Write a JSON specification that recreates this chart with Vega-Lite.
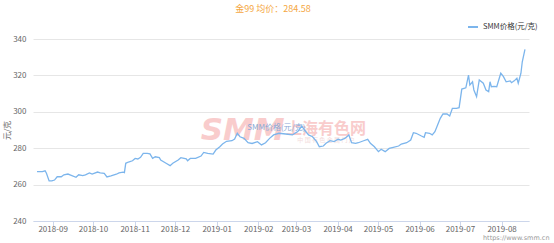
{
  "$schema": "https://vega.github.io/schema/vega-lite/v6.json",
  "autosize": "none",
  "width": 496,
  "height": 182,
  "padding": {"left": 33, "top": 39, "right": 25, "bottom": 22},
  "background": "#ffffff",
  "config": {
    "view": {"stroke": null},
    "font": "Noto Sans CJK SC",
    "axis": {"labelFont": "Noto Sans CJK SC", "titleFont": "Noto Sans CJK SC"}
  },
  "title": {
    "text": "金99 均价：284.58",
    "fontSize": 9,
    "fontWeight": "normal",
    "color": "#f5a742",
    "anchor": "middle",
    "offset": 7,
    "dx": -8
  },
  "datasets": {
    "price": [
      {"date": "2018-08-07", "price": 267.1},
      {"date": "2018-08-11", "price": 267.1},
      {"date": "2018-08-13", "price": 267.6},
      {"date": "2018-08-14", "price": 266.2},
      {"date": "2018-08-16", "price": 262.0},
      {"date": "2018-08-18", "price": 262.0},
      {"date": "2018-08-20", "price": 262.5},
      {"date": "2018-08-22", "price": 264.3},
      {"date": "2018-08-25", "price": 264.3},
      {"date": "2018-08-27", "price": 265.4},
      {"date": "2018-08-30", "price": 265.8},
      {"date": "2018-09-01", "price": 265.2},
      {"date": "2018-09-05", "price": 264.0},
      {"date": "2018-09-07", "price": 265.4},
      {"date": "2018-09-10", "price": 264.9},
      {"date": "2018-09-12", "price": 265.4},
      {"date": "2018-09-15", "price": 266.4},
      {"date": "2018-09-17", "price": 265.8},
      {"date": "2018-09-21", "price": 266.9},
      {"date": "2018-09-23", "price": 266.4},
      {"date": "2018-09-26", "price": 266.2},
      {"date": "2018-09-28", "price": 264.2},
      {"date": "2018-10-01", "price": 264.8},
      {"date": "2018-10-05", "price": 265.7},
      {"date": "2018-10-07", "price": 266.4},
      {"date": "2018-10-10", "price": 266.8},
      {"date": "2018-10-11", "price": 266.6},
      {"date": "2018-10-12", "price": 271.7},
      {"date": "2018-10-14", "price": 272.4},
      {"date": "2018-10-17", "price": 273.1},
      {"date": "2018-10-19", "price": 274.4},
      {"date": "2018-10-21", "price": 274.1},
      {"date": "2018-10-23", "price": 275.0},
      {"date": "2018-10-25", "price": 277.2},
      {"date": "2018-10-28", "price": 277.2},
      {"date": "2018-10-30", "price": 276.9},
      {"date": "2018-11-01", "price": 274.4},
      {"date": "2018-11-03", "price": 275.3},
      {"date": "2018-11-06", "price": 274.8},
      {"date": "2018-11-07", "price": 273.5},
      {"date": "2018-11-11", "price": 271.7},
      {"date": "2018-11-14", "price": 270.4},
      {"date": "2018-11-16", "price": 271.7},
      {"date": "2018-11-20", "price": 273.5},
      {"date": "2018-11-22", "price": 274.8},
      {"date": "2018-11-26", "price": 274.1},
      {"date": "2018-11-27", "price": 273.1},
      {"date": "2018-11-29", "price": 274.4},
      {"date": "2018-12-03", "price": 274.4},
      {"date": "2018-12-07", "price": 275.7},
      {"date": "2018-12-09", "price": 277.7},
      {"date": "2018-12-12", "price": 277.2},
      {"date": "2018-12-16", "price": 276.8},
      {"date": "2018-12-18", "price": 279.0},
      {"date": "2018-12-21", "price": 280.8},
      {"date": "2018-12-23", "price": 282.3},
      {"date": "2018-12-26", "price": 283.8},
      {"date": "2018-12-30", "price": 284.1},
      {"date": "2019-01-01", "price": 285.0},
      {"date": "2019-01-03", "price": 288.2},
      {"date": "2019-01-05", "price": 286.3},
      {"date": "2019-01-08", "price": 285.4},
      {"date": "2019-01-11", "price": 283.0},
      {"date": "2019-01-14", "price": 282.6},
      {"date": "2019-01-18", "price": 283.6},
      {"date": "2019-01-21", "price": 281.8},
      {"date": "2019-01-24", "price": 283.0},
      {"date": "2019-01-27", "price": 285.4},
      {"date": "2019-01-30", "price": 287.3},
      {"date": "2019-02-03", "price": 288.2},
      {"date": "2019-02-08", "price": 287.8},
      {"date": "2019-02-13", "price": 287.3},
      {"date": "2019-02-17", "price": 289.1},
      {"date": "2019-02-20", "price": 292.2},
      {"date": "2019-02-22", "price": 290.0},
      {"date": "2019-02-25", "price": 287.3},
      {"date": "2019-02-28", "price": 286.3},
      {"date": "2019-03-03", "price": 283.6},
      {"date": "2019-03-05", "price": 280.8},
      {"date": "2019-03-08", "price": 281.2},
      {"date": "2019-03-10", "price": 282.7},
      {"date": "2019-03-13", "price": 284.1},
      {"date": "2019-03-16", "price": 283.6},
      {"date": "2019-03-19", "price": 284.9},
      {"date": "2019-03-21", "price": 284.5},
      {"date": "2019-03-24", "price": 285.4},
      {"date": "2019-03-27", "price": 287.3},
      {"date": "2019-03-29", "price": 283.0},
      {"date": "2019-04-01", "price": 282.7},
      {"date": "2019-04-03", "price": 283.0},
      {"date": "2019-04-07", "price": 284.1},
      {"date": "2019-04-10", "price": 284.9},
      {"date": "2019-04-12", "price": 282.7},
      {"date": "2019-04-15", "price": 280.8},
      {"date": "2019-04-18", "price": 278.1},
      {"date": "2019-04-20", "price": 279.4},
      {"date": "2019-04-23", "price": 278.1},
      {"date": "2019-04-26", "price": 279.9},
      {"date": "2019-04-29", "price": 280.5},
      {"date": "2019-05-03", "price": 281.2},
      {"date": "2019-05-05", "price": 282.3},
      {"date": "2019-05-09", "price": 283.0},
      {"date": "2019-05-12", "price": 284.5},
      {"date": "2019-05-14", "price": 288.5},
      {"date": "2019-05-16", "price": 288.2},
      {"date": "2019-05-20", "price": 286.7},
      {"date": "2019-05-22", "price": 286.0},
      {"date": "2019-05-23", "price": 288.5},
      {"date": "2019-05-26", "price": 288.2},
      {"date": "2019-05-28", "price": 287.3},
      {"date": "2019-05-30", "price": 289.1},
      {"date": "2019-06-01", "price": 292.7},
      {"date": "2019-06-03", "price": 296.4},
      {"date": "2019-06-05", "price": 298.8},
      {"date": "2019-06-08", "price": 298.8},
      {"date": "2019-06-10", "price": 297.7},
      {"date": "2019-06-12", "price": 301.9},
      {"date": "2019-06-15", "price": 301.9},
      {"date": "2019-06-17", "price": 302.3},
      {"date": "2019-06-19", "price": 312.5},
      {"date": "2019-06-22", "price": 313.2},
      {"date": "2019-06-24", "price": 320.2},
      {"date": "2019-06-25", "price": 314.7},
      {"date": "2019-06-27", "price": 316.5},
      {"date": "2019-06-28", "price": 312.0},
      {"date": "2019-06-30", "price": 308.3},
      {"date": "2019-07-02", "price": 317.5},
      {"date": "2019-07-05", "price": 315.7},
      {"date": "2019-07-07", "price": 312.0},
      {"date": "2019-07-09", "price": 311.1},
      {"date": "2019-07-10", "price": 316.5},
      {"date": "2019-07-11", "price": 313.8},
      {"date": "2019-07-13", "price": 314.0},
      {"date": "2019-07-15", "price": 313.8},
      {"date": "2019-07-18", "price": 321.2},
      {"date": "2019-07-20", "price": 319.3},
      {"date": "2019-07-22", "price": 316.5},
      {"date": "2019-07-25", "price": 317.0},
      {"date": "2019-07-26", "price": 316.0},
      {"date": "2019-07-28", "price": 317.0},
      {"date": "2019-07-30", "price": 318.4},
      {"date": "2019-07-31", "price": 315.7},
      {"date": "2019-08-02", "price": 321.2},
      {"date": "2019-08-03", "price": 327.5},
      {"date": "2019-08-05", "price": 334.3}
    ],
    "deco": [
      {"label": "SMM", "date": "2019-01-07", "price": 289.5, "kind": "big"},
      {"label": "上海有色网", "date": "2019-03-10", "price": 290.6, "kind": "cn"},
      {"label": "中 国 有 色 金 属 门 户", "date": "2019-03-10", "price": 284.6, "kind": "sub"},
      {"label": "SMM价格(元/克)", "date": "2019-02-01", "price": 291.0, "kind": "blue"}
    ]
  },
  "encoding": {
    "x": {
      "field": "date",
      "type": "temporal",
      "scale": {"domain": ["2018-08-04", "2019-08-08"]},
      "axis": {
        "title": "https://www.smm.cn",
        "titleFontSize": 6.5,
        "titleFontWeight": "normal",
        "titleColor": "#999999",
        "titleAlign": "right",
        "titleBaseline": "middle",
        "titleX": 516,
        "titleY": 16,
        "titleFont": "DejaVu Sans",
        "format": "%Y-%m",
        "tickCount": {"interval": "month", "step": 1},
        "labelFontSize": 8,
        "labelColor": "#666666",
        "labelPadding": -1,
        "labelOverlap": false,
        "tickOffset": -18,
        "tickSize": 5,
        "tickColor": "#ccd6eb",
        "domainColor": "#ccd6eb",
        "grid": false
      }
    },
    "y": {
      "field": "price",
      "type": "quantitative",
      "scale": {"domain": [240, 340], "nice": false, "zero": false},
      "axis": {
        "title": "元/克",
        "titleFontSize": 8,
        "titleFontWeight": "normal",
        "titleColor": "#666666",
        "titlePadding": 1,
        "values": [240, 260, 280, 300, 320, 340],
        "labelFontSize": 8,
        "labelColor": "#666666",
        "labelPadding": 7,
        "labelOverlap": false,
        "ticks": false,
        "domain": false,
        "grid": true,
        "gridColor": "#e6e6e6"
      }
    }
  },
  "layer": [
    {
      "data": {"name": "deco"},
      "transform": [{"filter": "datum.kind === 'big'"}],
      "mark": {"type": "text", "fontSize": 31, "fontWeight": "bold", "fontStyle": "italic", "font": "DejaVu Sans", "color": "#f7bcbc", "opacity": 0.75, "align": "center", "baseline": "middle"},
      "encoding": {"text": {"field": "label"}}
    },
    {
      "data": {"name": "deco"},
      "transform": [{"filter": "datum.kind === 'cn'"}],
      "mark": {"type": "text", "fontSize": 16, "fontWeight": "bold", "color": "#f7bcbc", "opacity": 0.75, "align": "center", "baseline": "middle"},
      "encoding": {"text": {"field": "label"}}
    },
    {
      "data": {"name": "deco"},
      "transform": [{"filter": "datum.kind === 'sub'"}],
      "mark": {"type": "text", "fontSize": 6, "color": "#f3dcdc", "align": "center", "baseline": "middle"},
      "encoding": {"text": {"field": "label"}}
    },
    {
      "data": {"name": "deco"},
      "transform": [{"filter": "datum.kind === 'blue'"}],
      "mark": {"type": "text", "fontSize": 8, "color": "#8aa9d6", "align": "center", "baseline": "middle"},
      "encoding": {"text": {"field": "label"}}
    },
    {
      "data": {"name": "price"},
      "mark": {"type": "line", "strokeWidth": 1.3, "interpolate": "linear"},
      "encoding": {
        "color": {
          "datum": "SMM价格(元/克)",
          "type": "nominal",
          "scale": {"range": ["#7cb5ec"]},
          "legend": {
            "title": null,
            "orient": "none",
            "legendX": 434,
            "legendY": -18,
            "symbolType": "stroke",
            "symbolSize": 100,
            "symbolStrokeWidth": 2,
            "labelFontSize": 7.5,
            "labelColor": "#333333",
            "labelOffset": 4
          }
        }
      }
    }
  ]
}
